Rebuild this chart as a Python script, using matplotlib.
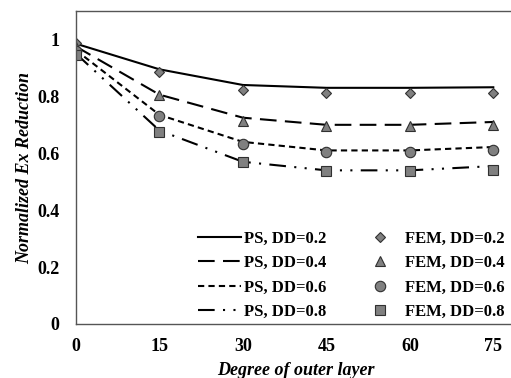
import numpy as np
import matplotlib
matplotlib.use("Agg")
import matplotlib.pyplot as plt

angles = [0, 15, 30, 45, 60, 75]
ps_02 = [0.985, 0.895, 0.84, 0.83, 0.83, 0.832]
ps_04 = [0.975, 0.806, 0.725, 0.70, 0.70, 0.71]
ps_06 = [0.962, 0.735, 0.64, 0.61, 0.61, 0.622]
ps_08 = [0.95, 0.68, 0.57, 0.54, 0.54, 0.555]
fem_02 = [0.988, 0.885, 0.824, 0.812, 0.812, 0.812]
fem_04 = [0.975, 0.804, 0.712, 0.695, 0.695, 0.70]
fem_06 = [0.96, 0.73, 0.633, 0.605, 0.605, 0.61]
fem_08 = [0.944, 0.675, 0.568, 0.536, 0.536, 0.542]
labels_dd = ["0.2", "0.4", "0.6", "0.8"]

plt.rcParams['font.family'] = ['Liberation Serif', 'DejaVu Serif']
plt.rcParams['font.weight'] = 'bold'

fig = plt.figure(figsize=(5.11, 3.78), dpi=100)
ax = fig.add_axes([76/511, 1 - 324/378, 1 - 76/511 + 0.01, (324 - 11)/378])

styles = ['-', (0, (8, 4)), (0, (3, 2)), (0, (8, 4, 1, 4, 1, 4))]
markers = ['D', '^', 'o', 's']
msizes = [5.5, 6.5, 7.5, 7]
ps_all = [ps_02, ps_04, ps_06, ps_08]
fem_all = [fem_02, fem_04, fem_06, fem_08]

for ps, ls, dd in zip(ps_all, styles, labels_dd):
    ax.plot(angles, ps, color='black', ls=ls, lw=1.5, label='PS, DD=' + dd)
for fem, m, ms, dd in zip(fem_all, markers, msizes, labels_dd):
    ax.plot(angles, fem, ls='none', marker=m, ms=ms, mfc='#808080',
            mec='#303030', mew=0.8, label='FEM, DD=' + dd)

ax.set_xlim(0, 79.1)
ax.set_ylim(0, 1.1)
ax.set_xticks(angles)
ax.set_yticks([0, 0.2, 0.4, 0.6, 0.8, 1.0])
ax.set_yticklabels(['0', '0.2', '0.4', '0.6', '0.8', '1'])
ax.tick_params(length=0, labelsize=13)
ax.tick_params(axis='y', pad=12)
ax.tick_params(axis='x', pad=10)
for lab in ax.get_xticklabels() + ax.get_yticklabels():
    lab.set_fontweight('bold')
ax.spines['right'].set_visible(False)
for s in ['left', 'bottom', 'top']:
    ax.spines[s].set_color('#555555')
    ax.spines[s].set_linewidth(1.0)

ax.set_xlabel('Degree of outer layer', fontsize=13, style='italic',
              fontweight='bold', labelpad=5)
ax.set_ylabel('Normalized Ex Reduction', fontsize=13, style='italic',
              fontweight='bold', labelpad=3)

ax.legend(ncol=2, loc='lower right', bbox_to_anchor=(1.008, -0.035),
          frameon=False, handlelength=2.6, handletextpad=0.2,
          columnspacing=1.9, labelspacing=0.5,
          prop={'weight': 'bold', 'size': 12})

fig.savefig('out.png', dpi=100)
